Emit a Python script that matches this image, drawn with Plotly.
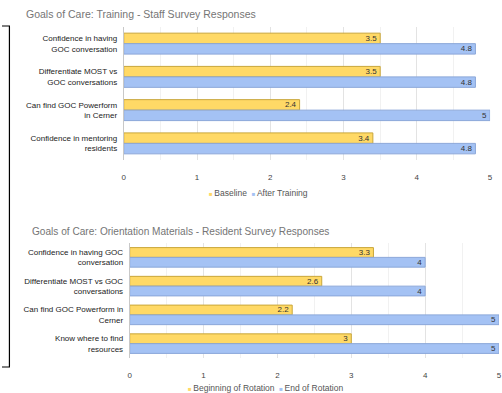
import plotly.graph_objects as go

W, H = 502, 393

# ---- data ----
top_title = "Goals of Care: Training - Staff Survey Responses"
top_categories = ["Confidence in having<br>GOC conversation",
                  "Differentiate MOST vs<br>GOC conversations",
                  "Can find GOC Powerform<br>in Cerner",
                  "Confidence in mentoring<br>residents"]
top_series_names = ["Baseline", "After Training"]
top_baseline = [3.5, 3.5, 2.4, 3.4]
top_after = [4.8, 4.8, 5, 4.8]

bot_title = "Goals of Care: Orientation Materials - Resident Survey Responses"
bot_categories = ["Confidence in having GOC<br>conversation",
                  "Differentiate MOST vs GOC<br>conversations",
                  "Can find GOC Powerform in<br>Cerner",
                  "Know where to find<br>resources"]
bot_series_names = ["Beginning of Rotation", "End of Rotation"]
bot_begin = [3.3, 2.6, 2.2, 3]
bot_end = [4, 4, 5, 5]

x_ticks = [0, 1, 2, 3, 4, 5]

YELLOW = "#FFD966"
BLUE = "#A4C2F4"
YELLOW_LINE = "#C9A63A"
BLUE_LINE = "#8BA7D9"
FONT = "Liberation Sans, Arial, sans-serif"


def px_x(p):
    return p / W


def px_y(p):
    return 1 - p / H


fig = go.Figure()


def add_pair(names, cats, v1, v2, xa, ya, w):
    for name, vals, off, col, lcol in [(names[0], v1, -w, YELLOW, YELLOW_LINE),
                                        (names[1], v2, 0, BLUE, BLUE_LINE)]:
        fig.add_trace(go.Bar(
            name=name, y=cats, x=vals, orientation="h",
            offset=off, width=w,
            marker=dict(color=col, line=dict(color=lcol, width=1)),
            text=[str(v) for v in vals], textposition="inside", insidetextanchor="end",
            textangle=0, textfont=dict(size=8, color="#333", family=FONT),
            xaxis=xa, yaxis=ya, showlegend=False, cliponaxis=False))


add_pair(top_series_names, top_categories, top_baseline, top_after, "x", "y", 0.315)
add_pair(bot_series_names, bot_categories, bot_begin, bot_end, "x2", "y2", 0.34)

xaxis_common = dict(
    range=[0, 5], tickvals=x_ticks, ticktext=[str(t) for t in x_ticks],
    showgrid=True, gridcolor="#E3E3E3", gridwidth=1,
    minor=dict(dtick=0.5, showgrid=True, gridcolor="#F1F1F1", gridwidth=1),
    zeroline=False, showline=False, ticks="",
    tickfont=dict(size=8, color="#444", family=FONT),
    ticklabelstandoff=11, fixedrange=True,
)
yaxis_common = dict(
    autorange="reversed", showgrid=False, zeroline=False,
    showline=True, linecolor="#C8C8C8", linewidth=1, ticks="",
    tickfont=dict(size=8, color="#222", family=FONT),
    ticklabelstandoff=4, fixedrange=True,
)

fig.update_layout(
    width=W, height=H,
    margin=dict(l=0, r=0, t=0, b=0),
    paper_bgcolor="white", plot_bgcolor="white",
    barmode="overlay",
    font=dict(family=FONT),
    uniformtext=dict(minsize=8, mode="show"),
    xaxis=dict(domain=[px_x(123), px_x(493)], anchor="y", **xaxis_common),
    yaxis=dict(domain=[px_y(160), px_y(27)], anchor="x", **yaxis_common),
    xaxis2=dict(domain=[px_x(129), px_x(502)], anchor="y2", **xaxis_common),
    yaxis2=dict(domain=[px_y(358), px_y(243)], anchor="x2", **yaxis_common),
    showlegend=False,
)

# titles
fig.add_annotation(text=top_title, xref="paper", yref="paper",
                   x=px_x(22), y=px_y(14.5), xanchor="left", yanchor="middle",
                   showarrow=False, font=dict(size=10.5, color="#757575", family=FONT))
fig.add_annotation(text=bot_title, xref="paper", yref="paper",
                   x=px_x(28), y=px_y(231), xanchor="left", yanchor="middle",
                   showarrow=False, font=dict(size=10.1, color="#757575", family=FONT))


# legends
def legend_text(names):
    parts = []
    for n, c in zip(names, [YELLOW, BLUE]):
        parts.append(f"<span style='color:{c};font-size:6px'>■ </span>{n}")
    return "  ".join(parts)


fig.add_annotation(text=legend_text(top_series_names), xref="paper", yref="paper",
                   x=px_x(259), y=px_y(193), xanchor="center", yanchor="middle",
                   showarrow=False, font=dict(size=8.5, color="#555", family=FONT))
fig.add_annotation(text=legend_text(bot_series_names), xref="paper", yref="paper",
                   x=px_x(266), y=px_y(388), xanchor="center", yanchor="middle",
                   showarrow=False, font=dict(size=8.5, color="#555", family=FONT))

# black bracket at the left edge (decoration)
fig.add_shape(type="path", xref="paper", yref="paper",
              path=f"M 0 {px_y(26)} L {px_x(7.5)} {px_y(26)} L {px_x(7.5)} {px_y(367)} L 0 {px_y(367)}",
              line=dict(color="black", width=1.2))

fig.write_html("out.html")
